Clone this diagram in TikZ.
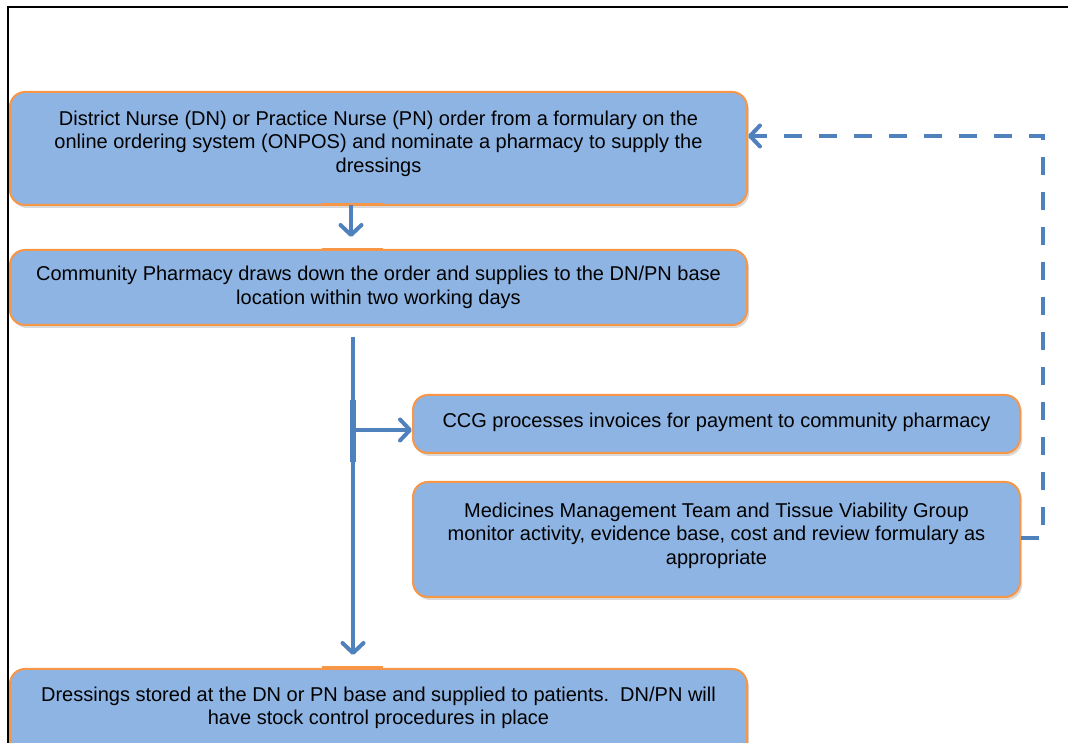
\documentclass[tikz,border=0pt]{standalone}
\usepackage{fontspec}
\setmainfont{Liberation Sans}
\usetikzlibrary{arrows.meta,shadows}
\definecolor{boxfill}{HTML}{8EB4E3}
\definecolor{boxline}{HTML}{F79646}
\definecolor{arrowblue}{HTML}{4F81BD}
\begin{document}
\begin{tikzpicture}[x=1pt,y=1pt,
  flowbox/.style={draw=boxline, line width=2pt, fill=boxfill, rounded corners=15pt,
    align=center, inner sep=0pt, font=\fontsize{20}{23.5}\selectfont,
    drop shadow={opacity=0.3, shadow xshift=2pt, shadow yshift=-3pt}},
  flowtext/.style={align=center, inner sep=0pt, font=\fontsize{20}{23.5}\selectfont},
  conn/.style={draw=arrowblue, line width=4pt},
  tip/.style={-{Straight Barb[round, length=10pt, width=21pt]}},
  dashconn/.style={draw=arrowblue, line width=4pt, dash pattern=on 18pt off 17pt},
  frame/.style={draw=black, line width=2.5pt},
  orangemark/.style={draw=boxline, line width=3pt}]
\useasboundingbox (0,0) rectangle (1068,743);
\clip (0,0) rectangle (1068,743);
% frame
\draw[frame] (8,0) -- (8,736) -- (1068,736);
% boxes
\node[flowbox, minimum width=737pt, minimum height=113pt, text depth=14pt] (b1) at (378.5,594.5)
  {District Nurse (DN) or Practice Nurse (PN) order from a formulary on the\\
   online ordering system (ONPOS) and nominate a pharmacy to supply the\\
   dressings};
\node[flowbox, minimum width=737pt, minimum height=75pt] (b2) at (378.5,455.5)
  {Community Pharmacy draws down the order and supplies to the DN/PN base\\
   location within two working days};
\node[flowbox, minimum width=607pt, minimum height=58pt, text depth=8pt] (b3) at (716.5,319)
  {CCG processes invoices for payment to community pharmacy};
\node[flowbox, minimum width=607pt, minimum height=115pt, text depth=12pt] (b4) at (716.5,203.5)
  {Medicines Management Team and Tissue Viability Group\\
   monitor activity, evidence base, cost and review formulary as\\
   appropriate};
\node[flowbox, minimum width=737pt, minimum height=110pt, anchor=north] (b5) at (378.5,75) {};
\node[flowtext] (t5) at (378.5,35)
  {Dressings stored at the DN or PN base and supplied to patients.\ \ DN/PN will\\
   have stock control procedures in place};
% small orange marks at connector ends
\draw[orangemark] (322,538) -- (383,538);
\draw[orangemark] (322,493) -- (383,493);
\draw[orangemark] (322,75) -- (383,75);
% connectors
\coordinate (a1s) at (351,538);
\coordinate (a1e) at (351,506);
\draw[conn, tip] (a1s) -- (a1e);
\coordinate (vs) at (353,406);
\coordinate (ve) at (353,88);
\draw[conn, tip] (vs) -- (ve);
\coordinate (ts) at (353,343);
\coordinate (te) at (353,281);
\draw[draw=arrowblue, line width=6pt] (ts) -- (te);
\coordinate (br) at (353,313);
\draw[conn, tip] (br) -- (b3.west |- br);
% dashed feedback
\coordinate (c1) at (1043,205);
\coordinate (c2) at (1043,607);
\draw[dashconn, tip] (b4.east |- c1) -- (c1) -- (c2) -- (b1.east |- c2);
\end{tikzpicture}
\end{document}
